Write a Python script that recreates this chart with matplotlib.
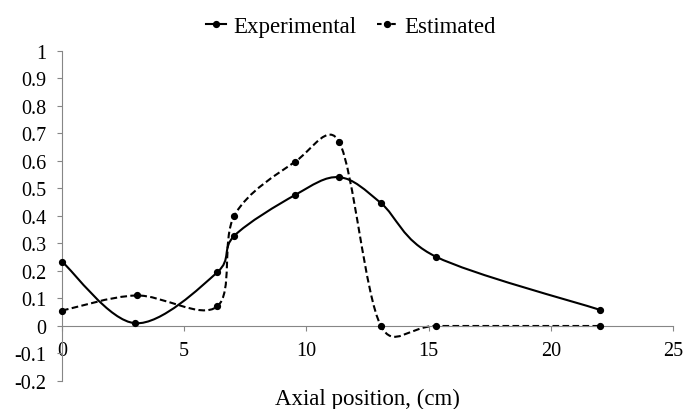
import matplotlib
matplotlib.use("Agg")
import matplotlib.pyplot as plt
from matplotlib.path import Path
from matplotlib.patches import PathPatch
from matplotlib.lines import Line2D
import numpy as np

plt.rcParams['font.family'] = ['Liberation Serif', 'DejaVu Serif']
plt.rcParams['axes.unicode_minus'] = False

# data
pos_exp = [0, 3.0, 6.35, 7.05, 9.55, 11.35, 13.05, 15.3, 22.0]
val_exp = [0.234, 0.01, 0.195, 0.328, 0.477, 0.541, 0.447, 0.252, 0.059]
pos_est = [0, 3.05, 6.35, 7.05, 9.55, 11.35, 13.05, 15.3, 22.0]
val_est = [0.056, 0.111, 0.071, 0.401, 0.598, 0.668, 0.0, 0.0, 0.0]

xticks = [0, 5, 10, 15, 20, 25]
yticks = [-0.2, -0.1, 0, 0.1, 0.2, 0.3, 0.4, 0.5, 0.6, 0.7, 0.8, 0.9, 1]
ytick_labels = ['-0.2', '-0.1', '0', '0.1', '0.2', '0.3', '0.4', '0.5',
                '0.6', '0.7', '0.8', '0.9', '1']

grey = '#868686'


def excel_smooth(ax, xs, ys):
    # Bezier path like Excel's "smoothed line", computed in screen space
    pts = ax.transData.transform(np.column_stack([xs, ys]))
    n = len(pts)
    verts = [pts[0]]
    codes = [Path.MOVETO]
    for i in range(n - 1):
        p0 = pts[max(i - 1, 0)]
        p1 = pts[i]
        p2 = pts[i + 1]
        p3 = pts[min(i + 2, n - 1)]
        d12 = np.hypot(*(p2 - p1))
        d02 = np.hypot(*(p2 - p0))
        d13 = np.hypot(*(p3 - p1))
        f = 1 / 6 if d02 == 0 else min(1 / 6, d12 / (2 * d02))
        g = 1 / 6 if d13 == 0 else min(1 / 6, d12 / (2 * d13))
        c1 = p1 + f * (p2 - p0)
        c2 = p2 - g * (p3 - p1)
        verts += [c1, c2, p2]
        codes += [Path.CURVE4] * 3
    inv = ax.transData.inverted()
    return Path(inv.transform(np.array(verts)), codes)


fig = plt.figure(figsize=(6.95, 4.1), dpi=100)
ax = fig.add_axes([0.0892, 0.0683, 0.8791, 0.8049])
ax.set_xlim(0, 25)
ax.set_ylim(-0.2, 1)

for sp in ['top', 'right']:
    ax.spines[sp].set_visible(False)
ax.spines['bottom'].set_position(('data', 0))
for sp in ['left', 'bottom']:
    ax.spines[sp].set_color(grey)
    ax.spines[sp].set_linewidth(0.8)

ax.set_xticks(xticks)
ax.set_yticks(yticks)
ax.set_yticklabels(ytick_labels)
ax.tick_params(axis='both', colors=grey, labelcolor='black', direction='out',
               length=3.5, width=0.8, labelsize=14.5)
ax.tick_params(axis='x', pad=7)
ax.tick_params(axis='y', pad=8)

lw = 1.5
dash = (0, (3.2, 1.6))

ax.add_patch(PathPatch(excel_smooth(ax, pos_exp, val_exp), fill=False,
                       edgecolor='black', lw=lw, capstyle='butt'))
ax.add_patch(PathPatch(excel_smooth(ax, pos_est, val_est), fill=False,
                       edgecolor='black', lw=lw, linestyle=dash, capstyle='butt'))
ax.plot(pos_exp, val_exp, 'o', color='black', ms=4.2, clip_on=False, zorder=3)
ax.plot(pos_est, val_est, 'o', color='black', ms=4.2, clip_on=False, zorder=3)

ax.set_xlabel('Axial position, (cm)', fontsize=16.5)
ax.xaxis.set_label_coords(0.5, -0.02)

handles = [
    Line2D([], [], color='black', lw=lw, marker='o', ms=4.2),
    Line2D([], [], color='black', lw=lw, linestyle=(0, (2.2, 1.2)),
           marker='o', ms=4.2),
]
fig.legend(handles, ['Experimental', 'Estimated'], loc='upper center',
           bbox_to_anchor=(0.505, 1.01), ncol=2, frameon=False, fontsize=16.5,
           handlelength=0.9, handletextpad=0.3, columnspacing=0.9)

fig.savefig('out.png', dpi=100)
